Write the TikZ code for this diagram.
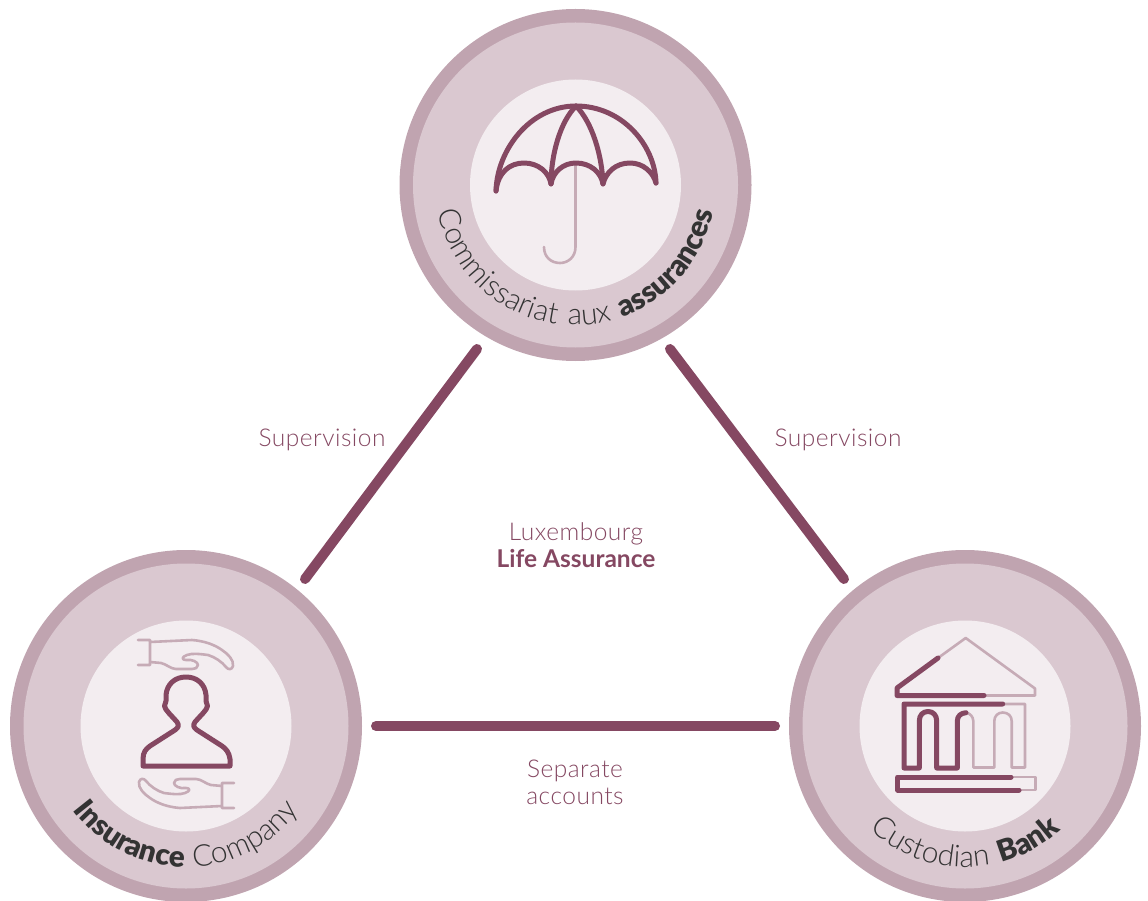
\documentclass[tikz,border=0pt]{standalone}
\usepackage{fontspec}
\usetikzlibrary{decorations.text}
\setmainfont{Lato}
\newfontfamily\latolight[LetterSpace=2]{Lato Light}
\newfontfamily\curvelight[LetterSpace=10]{Lato Light}
\newfontfamily\curveblack[LetterSpace=9]{Lato Black}
\newfontfamily\latobold{Lato Bold}
\definecolor{ringc}{HTML}{C0A4B0}
\definecolor{discc}{HTML}{DAC8D0}
\definecolor{corec}{HTML}{F3EDF0}
\definecolor{darkc}{HTML}{854862}
\definecolor{lightc}{HTML}{C6ABB6}
\definecolor{textc}{HTML}{333333}
\newcommand\rl{\curvelight\fontsize{30}{30}\selectfont}
\newcommand\rb{\curveblack\fontsize{29.5}{30}\selectfont}
\tikzset{
  ring/.style={circle,fill=ringc,minimum size=352pt,inner sep=0pt},
  disc/.style={circle,fill=discc,minimum size=325pt,inner sep=0pt},
  core/.style={circle,fill=corec,minimum size=211pt,inner sep=0pt},
  link/.style={draw=darkc,line width=10pt,line cap=round},
  ico/.style={draw=darkc,line width=5pt,line cap=round,line join=round},
  lico/.style={draw=lightc,line width=2.6pt,line cap=round,line join=round},
  lab/.style={text=darkc,align=center,inner sep=0pt,font=\latolight\fontsize{24.5}{27}\selectfont},
}
\begin{document}
\begin{tikzpicture}[x=1pt,y=-1pt]
\useasboundingbox (0,0) rectangle (1148,901);
% circles
\node[ring] (topR) at (575.5,185) {};
\node[disc] (topD) at (575.5,185) {};
\node[core] (topC) at (575.5,185) {};
\node[ring] (leftR) at (186,726) {};
\node[disc] (leftD) at (186,726) {};
\node[core] (leftC) at (186,726) {};
\node[ring] (rightR) at (965,726) {};
\node[disc] (rightD) at (965,726) {};
\node[core] (rightC) at (965,726) {};
% connectors
\coordinate (a1) at (477,349); \coordinate (a2) at (305,579);
\coordinate (b1) at (670,349); \coordinate (b2) at (844,579);
\coordinate (c1) at (376,726); \coordinate (c2) at (775,726);
\draw[link] (a1) -- (a2);
\draw[link] (b1) -- (b2);
\draw[link] (c1) -- (c2);
% labels
\node[lab] (sup1) at (322,440) {Supervision};
\node[lab] (sup2) at (838,440) {Supervision};
\node[lab] (lux) at (576,545) {Luxembourg\\{\latobold Life Assurance}};
\node[lab] (sep) at (575,782) {Separate\\accounts};
% umbrella
\draw[lico] (575.5,165) -- (575.5,247) .. controls (575.5,257) and (568,263) .. (560,263) .. controls (551,263) and (544,257) .. (544,247);
\draw[ico] (496,191) .. controls (497,150) and (530,106) .. (576,106) .. controls (622,106) and (655,145) .. (656,183);
\draw[ico] (576,106) .. controls (560,122) and (551,155) .. (551,184);
\draw[ico] (576,106) .. controls (592,122) and (602,155) .. (603,184);
\draw[ico] (496,191) .. controls (498,172) and (510,163) .. (524,163) .. controls (538,163) and (549,172) .. (551,184)
  .. controls (553,172) and (563,163) .. (576,163) .. controls (590,163) and (601,172) .. (603,184)
  .. controls (606,172) and (616,163) .. (630,163) .. controls (643,163) and (653,172) .. (656,183);
% person
\draw[ico] (143,766) -- (230,766) -- (230,759) .. controls (229,752) and (226,749) .. (222,746)
  -- (197,730) .. controls (193,727) and (193,725) .. (195,722) .. controls (201,715) and (207,710) .. (207.5,706)
  .. controls (207.5,704) and (206,703) .. (206,701) -- (206,695) .. controls (205,684) and (197,677) .. (186,677)
  .. controls (175,677) and (167,684) .. (166,695) -- (166,701) .. controls (166,703) and (164.5,704) .. (164.5,706)
  .. controls (165,710) and (171,715) .. (177,722) .. controls (179,725) and (179,727) .. (175,730)
  -- (150,746) .. controls (146,749) and (143,752) .. (143,759) -- cycle;
% hands
\def\handpath{(138,640) -- (150,640) -- (150,665) -- (138,665) (150,642) -- (192,640)
  .. controls (205,641) and (215,645) .. (222,650) .. controls (228,654) and (234,660) .. (233,666)
  .. controls (232,670) and (228,670) .. (226,667) .. controls (222,662) and (215,657) .. (208,655)
  .. controls (200,654) and (192,653) .. (187,655) .. controls (181,657) and (182,660) .. (186,660)
  .. controls (192,659) and (198,662) .. (198,665) .. controls (198,668) and (195,669) .. (192,669)
  -- (176,669) .. controls (171,669) and (166,664) .. (161,663) -- (150,662)}
\draw[lico] \handpath;
\draw[lico,rotate around={180:(186,724)}] \handpath;
% bank
\draw[lico] (938,658) -- (965.7,638) -- (1035,688.5) -- (1035,695.5) -- (984,695.5);
\draw[ico] (938,658) -- (897,688) -- (897,695.5) -- (984,695.5);
\draw[lico] (1002.7,704) -- (1025,704) -- (1025,767.5) -- (1011.7,767.5) -- (1011.7,721) .. controls (1011.7,716) and (1008,712.5) .. (1002.7,712.5) .. controls (998,712.5) and (994.3,716) .. (994.3,721) -- (994.3,767.5) -- (973.3,767.5) -- (973.3,721) .. controls (973.3,717) and (970,713) .. (966,712.7);
\draw[ico] (1002.7,704) -- (904,704) -- (904,768) -- (919.3,768) -- (919.3,721) .. controls (919.3,715) and (923,711.5) .. (928,711.5) .. controls (933,711.5) and (936.7,715) .. (936.7,721) -- (936.7,768) -- (957.3,768) -- (957.3,721) .. controls (957.3,716) and (961,713) .. (966,712.7);
\draw[lico] (1011,777) -- (1035.3,777) -- (1035.3,790) -- (1019,790);
\draw[ico] (1011,777) -- (897.7,777) -- (897.7,790) -- (1019,790);
% curved captions
\begin{scope}[x=1pt,y=1pt,shift={(topR.center)}]
\path[decorate,decoration={text along path,text align=center,text color=textc,
  text={|\rl|Commissariat aux |\rb|assurances}}] (180:140) arc (180:360:140);
\end{scope}
\begin{scope}[x=1pt,y=1pt,shift={(leftR.center)}]
\path[decorate,decoration={text along path,text align=center,text color=textc,
  text={|\rb|Insurance |\rl|Company}}] (180:141) arc (180:360:141);
\end{scope}
\begin{scope}[x=1pt,y=1pt,shift={(rightR.center)}]
\path[decorate,decoration={text along path,text align=center,text color=textc,
  text={|\rl|Custodian |\rb|Bank}}] (180:141) arc (180:360:141);
\end{scope}
\end{tikzpicture}
\end{document}
